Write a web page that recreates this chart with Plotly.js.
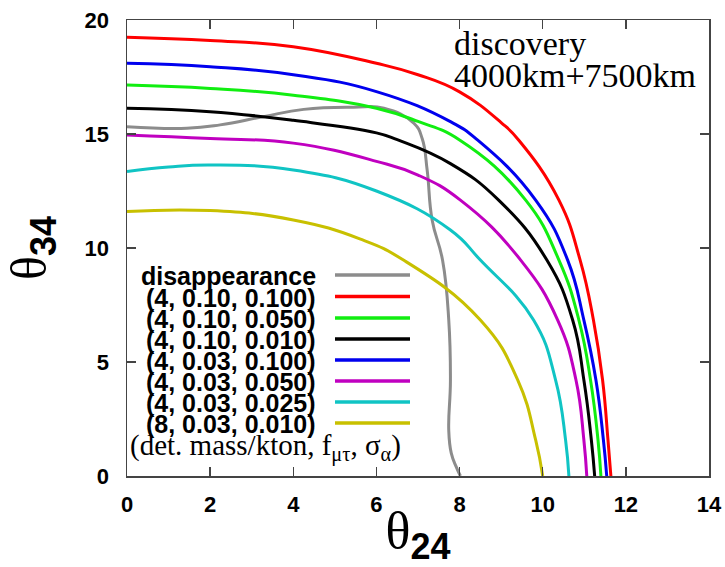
<!DOCTYPE html>
<html>
<head>
<meta charset="utf-8">
<script src="https://cdn.plot.ly/plotly-3.0.1.min.js"></script>
<style>html,body{margin:0;padding:0;background:#fff;}#chart{width:725px;height:567px;}</style>
</head>
<body>
<div id="chart"></div>
<script>
// ---- data (theta24, theta34 in degrees) ----
const disapp_x = [0, 1.44, 2.24, 3.28, 4.25, 5.45, 6.18, 6.9, 7.1, 7.22, 7.34, 7.59, 7.74, 7.78, 7.74, 7.8, 7.92, 8.02];
const disapp_y = [15.32, 15.25, 15.4, 15.76, 16.08, 16.17, 16.13, 15.47, 14.8, 13.42, 11.23, 9.47, 6.84, 4.21, 2.0, 1.0, 0.4, 0];

const red_x = [0, 2, 4, 6, 7, 8, 9, 9.42, 10.39, 10.9, 11.22, 11.44, 11.57, 11.64];
const red_y = [19.24, 19.1, 18.83, 18.1, 17.6, 16.85, 15.5, 14.74, 12.1, 9.47, 6.84, 4.21, 1.58, 0];

const green_x = [0, 2, 4, 6, 7.0, 8.0, 9.59, 10.39, 10.87, 11.15, 11.33, 11.4];
const green_y = [17.15, 17.0, 16.7, 16.13, 15.55, 14.74, 12.1, 9.47, 6.84, 4.21, 1.58, 0];

const black_x = [0, 2, 4, 6, 6.5, 7.78, 8.94, 10.1, 10.72, 10.99, 11.17, 11.25];
const black_y = [16.13, 15.98, 15.6, 15.05, 14.75, 13.7, 12.1, 9.47, 6.84, 4.21, 1.58, 0];

const blue_x = [0, 2, 4, 6, 7.78, 8.43, 9.83, 10.6, 10.99, 11.28, 11.46, 11.54];
const blue_y = [18.1, 17.95, 17.6, 16.86, 15.54, 14.74, 12.1, 9.47, 6.84, 4.21, 1.58, 0];

const magenta_x = [0, 2, 4, 6, 7, 8.02, 9.47, 10.36, 10.8, 10.99, 11.06];
const magenta_y = [14.96, 14.8, 14.6, 13.8, 13.2, 12.1, 9.47, 6.84, 4.21, 1.58, 0];

const cyan_x = [0, 1, 2, 4, 6, 7.78, 8.5, 9.78, 10.31, 10.55, 10.63];
const cyan_y = [13.35, 13.55, 13.64, 13.42, 12.5, 10.79, 9.47, 6.84, 4.21, 1.58, 0];

const yellow_x = [0, 2, 4, 5.6, 6.65, 8.5, 9.4, 9.83, 10.0];
const yellow_y = [11.6, 11.64, 11.23, 10.4, 9.47, 6.84, 4.21, 1.58, 0];

const seriesNames = ["disappearance", "(4, 0.10, 0.100)", "(4, 0.10, 0.050)", "(4, 0.10, 0.010)",
                     "(4, 0.03, 0.100)", "(4, 0.03, 0.050)", "(4, 0.03, 0.025)", "(8, 0.03, 0.010)"];
const xTicks = [0, 2, 4, 6, 8, 10, 12, 14];
const yTicks = [0, 5, 10, 15, 20];

// ---- styling ----
const colors = ["#8c8c8c", "#ff0000", "#11ee11", "#000000", "#0000ee", "#c000c0", "#10c4c4", "#c8c000"];
const xs = [disapp_x, red_x, green_x, black_x, blue_x, magenta_x, cyan_x, yellow_x];
const ys = [disapp_y, red_y, green_y, black_y, blue_y, magenta_y, cyan_y, yellow_y];

const traces = xs.map((x, i) => ({
  x: x, y: ys[i], type: "scatter", mode: "lines", name: seriesNames[i],
  line: {color: colors[i], width: 3, shape: "spline", smoothing: 1.3},
  showlegend: false, hoverinfo: "skip"
}));

// custom legend (text left, line sample right) placed in paper coords
const L = 127, R = 709, T = 20, B = 476;
const px2x = p => (p - L) / (R - L);
const px2y = p => (B - p) / (B - T);
const rowY = [275, 296.5, 318, 339, 360, 381, 402, 423];
const annotations = [];
const shapes = [];
seriesNames.forEach((nm, i) => {
  annotations.push({
    xref: "paper", yref: "paper", x: px2x(318), y: px2y(rowY[i] + 1),
    xanchor: "right", yanchor: "middle", showarrow: false, text: nm,
    font: {family: "Liberation Sans, Arial, sans-serif", size: 25, color: "#000", weight: "bold"}
  });
  shapes.push({
    type: "line", xref: "paper", yref: "paper",
    x0: px2x(335), x1: px2x(410), y0: px2y(rowY[i]), y1: px2y(rowY[i]),
    line: {color: colors[i], width: 3.5}
  });
});
annotations.push({
  xref: "paper", yref: "paper", x: px2x(128), y: px2y(447),
  xanchor: "left", yanchor: "middle", showarrow: false,
  text: "(det. mass/kton, f<sub>μτ</sub>, σ<sub>α</sub>)",
  font: {family: "Liberation Serif, Times New Roman, serif", size: 29, color: "#000"}
});
annotations.push({
  xref: "paper", yref: "paper", x: px2x(452), y: px2y(43),
  xanchor: "left", yanchor: "middle", showarrow: false, text: "discovery",
  font: {family: "Liberation Serif, Times New Roman, serif", size: 34, color: "#000"}
});
annotations.push({
  xref: "paper", yref: "paper", x: px2x(452), y: px2y(75),
  xanchor: "left", yanchor: "middle", showarrow: false, text: "4000km+7500km",
  font: {family: "Liberation Serif, Times New Roman, serif", size: 34, color: "#000"}
});

const axisCommon = {
  showgrid: false, zeroline: false, showline: true, linecolor: "#444", linewidth: 1.5,
  mirror: "ticks", ticks: "inside", ticklen: 9, tickwidth: 1.5, tickcolor: "#444",
  tickfont: {family: "Liberation Sans, Arial, sans-serif", size: 22, color: "#000", weight: "bold"}
};

const subStyle = "font-family:Liberation Sans,Arial;font-weight:bold;font-size:36px";

const layout = {
  width: 725, height: 567,
  margin: {l: L, r: 725 - R, t: T, b: 567 - B},
  paper_bgcolor: "#fff", plot_bgcolor: "#fff",
  showlegend: false,
  xaxis: Object.assign({}, axisCommon, {
    range: [0, 14], tickvals: xTicks, ticktext: xTicks.map(String), ticklabelstandoff: 8,
    title: {text: "θ<sub><span style=\"" + subStyle + "\">24</span></sub>",
            font: {family: "Liberation Serif, Times New Roman, serif", size: 52, color: "#000"}, standoff: 0}
  }),
  yaxis: Object.assign({}, axisCommon, {
    range: [0, 20], tickvals: yTicks, ticktext: yTicks.map(String), ticklabelstandoff: 12,
    title: {text: "θ<sub><span style=\"" + subStyle + "\">34</span></sub>",
            font: {family: "Liberation Serif, Times New Roman, serif", size: 50, color: "#000"}, standoff: 22}
  }),
  annotations: annotations,
  shapes: shapes
};

Plotly.newPlot("chart", traces, layout, {staticPlot: true, displayModeBar: false});
</script>
</body>
</html>
